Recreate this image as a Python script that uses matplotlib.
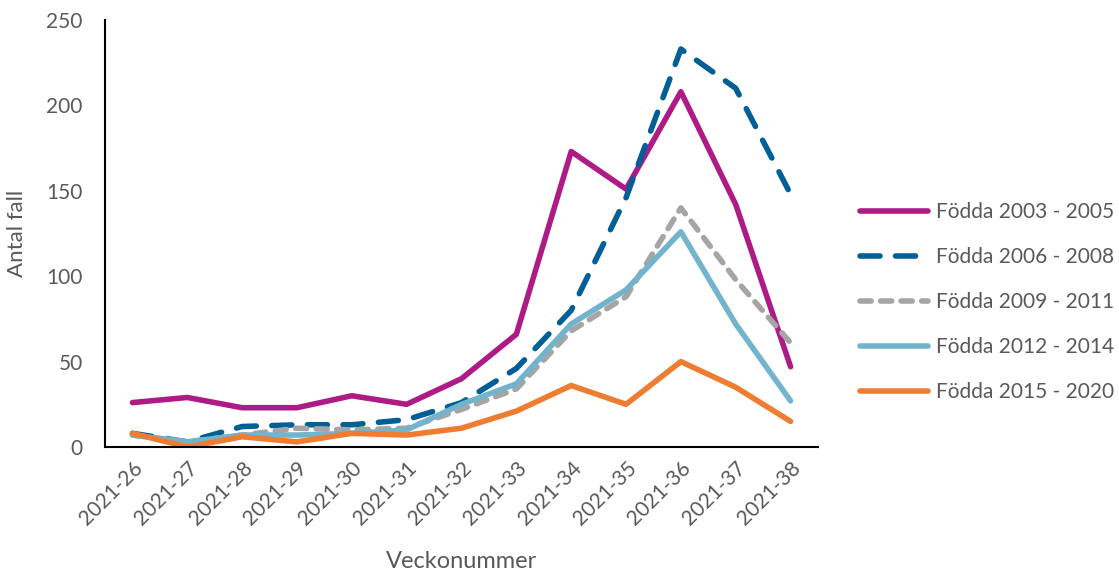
import matplotlib
matplotlib.use("Agg")
import matplotlib.pyplot as plt

weeks = ["2021-26", "2021-27", "2021-28", "2021-29", "2021-30", "2021-31", "2021-32",
         "2021-33", "2021-34", "2021-35", "2021-36", "2021-37", "2021-38"]
s2003 = [26, 29, 23, 23, 30, 25, 40, 66, 173, 151, 208, 142, 47]
s2006 = [8, 3, 12, 13, 13, 16, 26, 46, 80, 146, 233, 210, 148]
s2009 = [7, 3, 7, 11, 10, 11, 22, 34, 68, 88, 140, 98, 61]
s2012 = [7, 3, 7, 7, 8, 10, 25, 37, 72, 92, 126, 72, 27]
s2015 = [8, 0, 6, 3, 8, 7, 11, 21, 36, 25, 50, 35, 15]
labels = ["Födda 2003 - 2005", "Födda 2006 - 2008", "Födda 2009 - 2011",
          "Födda 2012 - 2014", "Födda 2015 - 2020"]

plt.rcParams['font.family'] = ['Lato', 'DejaVu Sans']
txt = '#595959'

fig = plt.figure(figsize=(11.19, 5.75), dpi=100)
ax = fig.add_axes([105/1119, 1-447/575, (818-105)/1119, (447-20)/575])

x = list(range(len(weeks)))
lw = 4.0
ax.plot(x, s2003, color='#AE1A86', lw=lw, solid_capstyle='round', label=labels[0])
ax.plot(x, s2006, color='#005F96', lw=lw, dashes=(3.6, 2.8), dash_capstyle='round', label=labels[1])
ax.plot(x, s2009, color='#A5A5A5', lw=lw, dashes=(2.0, 1.7), dash_capstyle='round', label=labels[2])
ax.plot(x, s2012, color='#72B4CC', lw=lw, solid_capstyle='round', label=labels[3])
ax.plot(x, s2015, color='#EE7D31', lw=lw, solid_capstyle='round', label=labels[4])

ax.set_xlim(-0.5, len(weeks)-0.5)
ax.set_ylim(0, 250)
ax.set_yticks([0, 50, 100, 150, 200, 250])
ax.set_xticks(x)
ax.set_xticklabels(weeks, rotation=45, ha='right', rotation_mode='anchor')
ax.tick_params(axis='both', length=0, labelsize=15, colors=txt, pad=8)
ax.tick_params(axis='y', pad=16)
for s in ['top', 'right']:
    ax.spines[s].set_visible(False)
for s in ['left', 'bottom']:
    ax.spines[s].set_color('black')
    ax.spines[s].set_linewidth(1.5)

ax.set_ylabel("Antal fall", fontsize=16, color=txt, labelpad=14)
ax.set_xlabel("Veckonummer", fontsize=17, color=txt, labelpad=16)

leg = ax.legend(loc='center left', bbox_to_anchor=(1.032, 0.34), frameon=False,
                fontsize=15, labelcolor=txt, handlelength=3.3, handletextpad=0.35,
                labelspacing=1.2)

fig.savefig("out.png", dpi=100)
